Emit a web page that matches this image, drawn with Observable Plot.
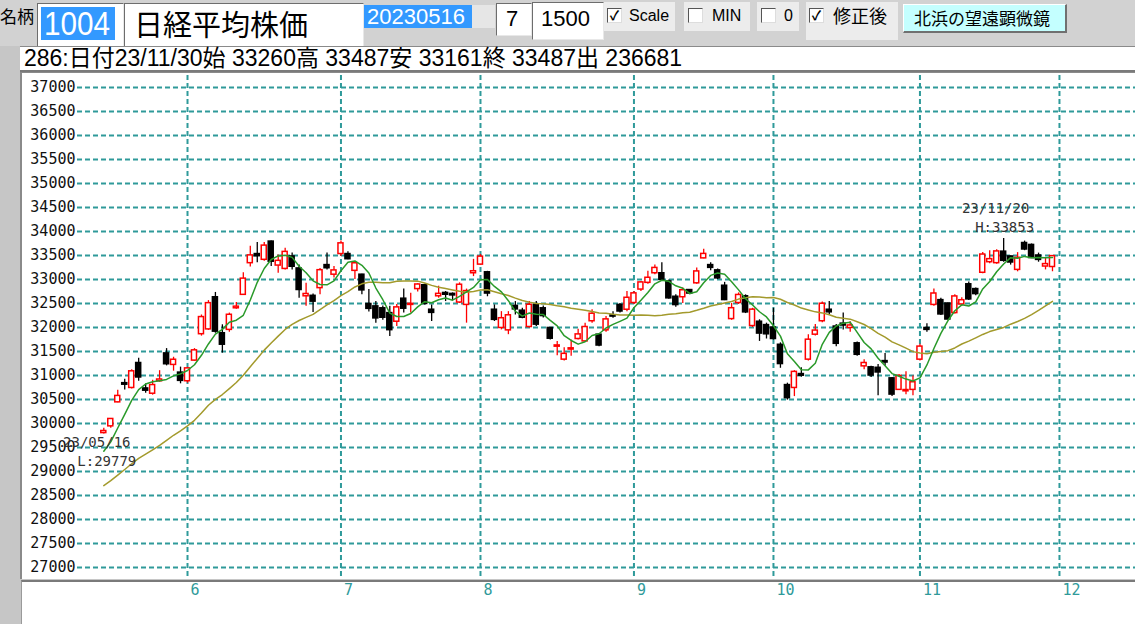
<!DOCTYPE html>
<html><head><meta charset="utf-8">
<script src="https://cdn.jsdelivr.net/npm/d3@7"></script>
<script src="https://cdn.jsdelivr.net/npm/@observablehq/plot@0.6"></script>
<style>
html,body{margin:0;padding:0;}
body{width:1135px;height:624px;overflow:hidden;background:#c6c6c6;position:relative;font-family:"Liberation Sans","Noto Sans CJK JP",sans-serif;}
.a{position:absolute;box-sizing:border-box;white-space:nowrap;}
.white{background:#fff;}
.inset{border-top:1px solid #6d6d6d;border-left:1px solid #6d6d6d;border-right:1px solid #e8e8e8;border-bottom:1px solid #e8e8e8;}
.ctl{background:#ececec;}
.cb{position:absolute;width:15px;height:15px;background:#fff;border-top:1px solid #555;border-left:1px solid #555;border-right:1px solid #ddd;border-bottom:1px solid #ddd;box-sizing:border-box;font-size:13px;line-height:13px;text-align:center;font-weight:bold;color:#000;}
#chart{position:absolute;left:20px;top:72px;}
</style></head><body>
<div class="a" style="left:0;top:0;width:1135px;height:46px;background:#d2d2d2;"></div>
<div class="a" style="left:0;top:6px;font:17px 'Noto Sans CJK JP';line-height:20px;">名柄</div>
<div class="a white inset" style="left:37px;top:3px;width:87px;height:44px;"></div>
<div class="a" style="left:41px;top:7px;width:74px;height:33px;background:#3399ff;"></div>
<div class="a" style="left:44px;top:5px;color:#fff;font:33px 'Liberation Sans';line-height:37px;transform:scaleX(0.9);transform-origin:left;">1004</div>
<div class="a white inset" style="left:124px;top:3px;width:240px;height:44px;"></div>
<div class="a" style="left:134px;top:5px;font:29px 'Noto Sans CJK JP';line-height:36px;color:#000;">日経平均株価</div>
<div class="a" style="left:364px;top:5px;width:108px;height:23px;background:#3399ff;"></div>
<div class="a" style="left:367px;top:5px;color:#fff;font:22px 'Liberation Sans';line-height:23px;">20230516</div>
<div class="a" style="left:472px;top:5px;width:23px;height:23px;background:#e6e6e6;"></div>
<div class="a white inset" style="left:496px;top:3px;width:36px;height:33px;"></div>
<div class="a" style="left:506px;top:5px;font:22px 'Liberation Sans';line-height:28px;">7</div>
<div class="a white inset" style="left:532px;top:2px;width:72px;height:38px;"></div>
<div class="a" style="left:541px;top:5px;font:22px 'Liberation Sans';line-height:28px;">1500</div>
<div class="a ctl" style="left:604px;top:2px;width:71px;height:29px;"></div>
<div class="cb" style="left:607px;top:8px;">✓</div>
<div class="a" style="left:629px;top:6px;font:16px 'Liberation Sans';line-height:20px;">Scale</div>
<div class="a ctl" style="left:684px;top:2px;width:66px;height:29px;"></div>
<div class="cb" style="left:688px;top:8px;"></div>
<div class="a" style="left:712px;top:6px;font:16px 'Liberation Sans';line-height:20px;">MIN</div>
<div class="a ctl" style="left:757px;top:2px;width:42px;height:29px;"></div>
<div class="cb" style="left:761px;top:8px;"></div>
<div class="a" style="left:784px;top:6px;font:16px 'Liberation Sans';line-height:20px;">0</div>
<div class="a ctl" style="left:806px;top:2px;width:92px;height:38px;"></div>
<div class="cb" style="left:809px;top:8px;">✓</div>
<div class="a" style="left:833px;top:3px;font:18px 'Noto Sans CJK JP';line-height:24px;">修正後</div>
<div class="a" style="left:903px;top:4px;width:164px;height:29px;background:#c4ffff;border-top:1px solid #fff;border-left:1px solid #fff;border-right:2px solid #707070;border-bottom:2px solid #707070;"></div>
<div class="a" style="left:914px;top:6px;font:17px 'Noto Sans CJK JP';line-height:23px;">北浜の望遠顕微鏡</div>
<div class="a white" style="left:20px;top:46px;width:1115px;height:26px;border-top:1px solid #8a8a8a;border-bottom:2px solid #7a7a7a;"></div>
<div class="a" style="left:24px;top:46px;font:23px 'Liberation Sans','Noto Sans CJK JP';line-height:25px;">286:日付23/11/30始 33260高 33487安 33161終 33487出 236681</div>
<div class="a white" style="left:20px;top:72px;width:1115px;height:507px;border-left:2px solid #8a8a8a;border-top:1px solid #8a8a8a;"></div>
<div class="a white" style="left:21px;top:580px;width:1114px;height:44px;border-top:2px solid #7a7a7a;border-left:1px solid #9a9a9a;"></div>
<div id="chart"></div>
<script>
// ---- Data (Nikkei 225 daily, 2023/05/16 – 2023/11/30) ----
const opens = [29800,29940,30440,30840,30740,31260,30730,30620,30880,31460,31220,31060,
30880,31310,31860,31960,32630,31880,31950,32400,32680,33340,33530,33410,33790,33290,33220,33480,33230,32650,32660,32820,33300,33100,
33530,33530,33180,33100,32490,32440,32400,32300,32120,32600,32470,32800,32880,32370,32650,32720,32700,32520,32470,33130,
33310,33150,32370,31990,31940,32450,32350,32010,32470,32400,31990,31600,31330,31540,31760,31710,32130,31850,31940,32250,32470,32370,
32510,32790,32930,33130,33130,32960,32640,32630,32780,32920,33440,33300,33190,32870,32175,32510,32650,32030,32120,32050,
32000,31640,30800,30740,31030,31330,31850,32130,32370,32020,32080,31990,31670,31190,31170,31160,31300,30940,30700,30670,30700,
31330,31990,32470,32570,32500,32300,32480,32900,32800,33140,33360,33340,33580,33480,33200,33760,33720,33500,33270,33260];
const highs = [29900,30100,30690,30920,31120,31360,30820,30900,31100,31560,31380,31174,
31170,31560,32260,32560,32730,32056,32300,32520,33140,33690,33770,33770,33800,33510,33650,33550,33300,32920,32700,33230,33550,33270,
33800,33580,33375,33110,32790,32540,32450,32440,32480,32800,32715,32910,32900,32470,32860,32750,32720,32930,32800,33420,
33520,33170,32470,32330,32330,32540,32400,32540,32540,32450,32000,31710,31580,31740,31965,32090,32370,31870,32230,32330,32500,32750,
32750,32960,33170,33300,33350,32990,32680,32820,32790,33240,33630,33350,33220,32940,32500,32720,32680,32400,32160,32090,
32400,31680,30840,31100,31160,31850,32060,32530,32540,32060,32300,32120,31700,31330,31190,31230,31460,30960,31020,31080,30990,
31650,32080,32800,32610,32510,32680,32620,32950,32820,33560,33600,33620,33853,33490,33560,33800,33740,33550,33440,33487];
const lows = [29779,29900,30430,30700,30720,30880,30630,30590,30860,31200,31090,30826,
30840,31300,31820,31940,31880,31465,31900,32380,32680,33260,33350,33380,33270,33130,33200,33200,32610,32440,32310,32680,33200,33030,
33480,33410,33000,32680,32320,32090,32150,31810,32020,32300,32300,32740,32470,32125,32610,32540,32560,32500,32090,33060,
33300,32640,32125,31950,31850,32260,32180,31990,32020,32200,31740,31410,31300,31400,31740,31700,32090,31600,31900,32190,32300,32330,
32480,32750,32900,33100,32960,32590,32420,32500,32680,32900,33430,33180,33000,32560,32150,32480,32290,32000,31710,31760,
31740,31150,30487,30560,30965,31300,31820,32100,32260,31600,31950,31900,31400,31120,30960,30580,31190,30560,30690,30600,30580,
31300,31900,32440,32250,32160,32280,32440,32560,32660,33120,33330,33320,33360,33300,33160,33600,33440,33360,33200,33161];
const closes = [29843,30094,30574,30808,31087,30958,30683,30801,30916,31234,31328,30888,
31148,31524,32217,32507,31913,31641,32265,32434,33018,33502,33485,33706,33370,33389,33575,33265,32781,32698,32538,33194,33234,33189,
33753,33422,33338,32773,32388,32189,32203,31944,32419,32391,32493,32896,32490,32304,32701,32682,32668,32891,32759,33172,
33476,32707,32159,32193,32254,32377,32204,32474,32059,32238,31766,31626,31451,31566,31856,32010,32287,31624,32169,32227,32333,32619,
32711,32939,33036,33241,32991,32607,32467,32776,32707,33168,33533,33242,33023,32571,32402,32678,32315,32372,31873,31858,
31760,31238,30527,31075,30995,31746,31936,32495,32316,31660,32041,32042,31431,31260,30999,31063,31270,30602,30991,30697,30859,
31602,31950,32708,32272,32166,32647,32568,32585,32696,33520,33424,33585,33389,33354,33452,33625,33447,33408,33321,33487];
// closes of the 24 sessions before the first bar (feed the 5- and 25-day averages)
const priorCloses = [27518,27633,27923,28082,28157,28493,28515,28658,28606,28657,28564,28593,28620,28416,28457,28856,29123,29157,29242,29242,29122,29127,29388,29626];
const yTicks = [27000,27500,28000,28500,29000,29500,30000,30500,31000,31500,32000,32500,33000,33500,34000,34500,35000,35500,36000,36500,37000];
const monthStartIdx = [12,34,54,76,96,117,137];
const monthLabels = ["6","7","8","9","10","11","12"];
const lowNote = {i: 0, date: "23/05/16", value: 29779};
const highNote = {i: 129, date: "23/11/20", value: 33853};

// ---- Build ----
const candles = closes.map((c, i) => ({i, o: opens[i], h: highs[i], l: lows[i], c}));
const series = [...priorCloses, ...closes].map((c, k) => ({i: k - priorCloses.length, c}));
const up = d => d.c >= d.o, down = d => d.c < d.o;
const teal = "#2f9a9a";
const labelOf = new Map(monthStartIdx.map((d, k) => [d, monthLabels[k]]));
const mono = "DejaVu Sans Mono";

const chart = Plot.plot({
  width: 1115, height: 552,
  marginLeft: 57, marginRight: 0, marginTop: 3, marginBottom: 46,
  x: {domain: [-3.77, 147.9]},
  y: {domain: [26770, 37250]},
  style: {background: "transparent", overflow: "visible", fontFamily: mono, fontSize: "15px"},
  marks: [
    Plot.ruleY(yTicks, {stroke: teal, strokeWidth: 2, strokeDasharray: "5,3"}),
    Plot.ruleX(monthStartIdx, {stroke: teal, strokeWidth: 2, strokeDasharray: "5,3"}),
    Plot.axisY(yTicks, {tickSize: 0, tickPadding: 2, tickFormat: d => String(d), label: null, fill: "#111", fontSize: 15, fontFamily: mono}),
    Plot.axisX(monthStartIdx, {tickSize: 0, tickPadding: 6, tickFormat: d => labelOf.get(d), label: null, textAnchor: "start", dx: 3, fill: teal, fontSize: 15, fontFamily: mono}),
    Plot.ruleX(candles, {filter: up, x: "i", y1: "l", y2: "h", stroke: "red", strokeWidth: 1.3}),
    Plot.ruleX(candles, {filter: down, x: "i", y1: "l", y2: "h", stroke: "black", strokeWidth: 1.3}),
    Plot.rect(candles, {filter: up, x1: d => d.i - 0.36, x2: d => d.i + 0.36, y1: "o", y2: "c", fill: "white", stroke: "red", strokeWidth: 1.5}),
    Plot.rect(candles, {filter: down, x1: d => d.i - 0.36, x2: d => d.i + 0.36, y1: "o", y2: "c", fill: "black", stroke: "black", strokeWidth: 1.5}),
    Plot.lineY(series, Plot.filter(d => d.i >= 0, Plot.windowY({k: 25, anchor: "end"}, {x: "i", y: "c", stroke: "#a39a2c", strokeWidth: 1.5}))),
    Plot.lineY(series, Plot.filter(d => d.i >= 0, Plot.windowY({k: 5, anchor: "end"}, {x: "i", y: "c", stroke: "#2a9a2a", strokeWidth: 1.5}))),
    Plot.text([lowNote], {x: "i", y: "value", text: "date", dx: -7, dy: 8, fill: "#333", fontSize: 14, fontFamily: mono}),
    Plot.text([lowNote], {x: "i", y: "value", text: d => `L:${d.value}`, dx: 3, dy: 27, fill: "#333", fontSize: 14, fontFamily: mono}),
    Plot.text([highNote], {x: "i", y: "value", text: "date", dx: -8, dy: -30, fill: "#333", fontSize: 14, fontFamily: mono}),
    Plot.text([highNote], {x: "i", y: "value", text: d => `H:${d.value}`, dx: 1, dy: -11, fill: "#333", fontSize: 14, fontFamily: mono})
  ]
});
document.getElementById("chart").appendChild(chart);
</script>
</body></html>
